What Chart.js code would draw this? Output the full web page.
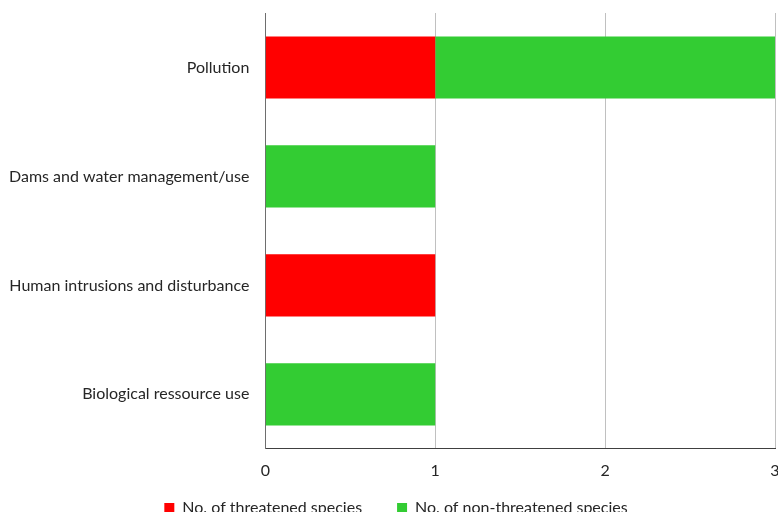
<!DOCTYPE html>
<html>
<head>
<meta charset="utf-8">
<script src="https://cdn.jsdelivr.net/npm/chart.js@4"></script>
<style>
  html, body { margin: 0; padding: 0; background: #fff; }
  #wrap { width: 778px; height: 516px; }
</style>
</head>
<body>
<div id="wrap"><canvas id="c" width="778" height="516"></canvas></div>
<script>
// Threats by category, split into threatened / non-threatened species counts
const categories = [
  'Pollution',
  'Dams and water management/use',
  'Human intrusions and disturbance',
  'Biological ressource use'
];
const threatened = [1, 0, 1, 0];
const nonThreatened = [2, 1, 0, 1];
const xTicks = [0, 1, 2, 3];

const FONT = 'Lato, "Open Sans", sans-serif';
const TEXT = '#262626';

// Keep the legend's wide item spacing while making its box shorter,
// then nudge it into place below the axis labels.
const legendFit = {
  id: 'legendFit',
  afterInit(chart) {
    const lg = chart.legend;
    if (!lg) return;
    const fit = lg.fit.bind(lg);
    lg.fit = function () { fit(); this.height -= 14; };
  },
  afterLayout(chart) {
    const lg = chart.legend;
    if (!lg) return;
    lg.top -= 14; lg.bottom -= 14;
    lg.left += 12; lg.right += 12;
  }
};

new Chart(document.getElementById('c'), {
  type: 'bar',
  data: {
    labels: categories,
    datasets: [
      {
        label: 'No. of threatened species',
        data: threatened,
        backgroundColor: '#ff0000',
        borderWidth: 0,
        categoryPercentage: 0.57,
        barPercentage: 1
      },
      {
        label: 'No. of non-threatened species',
        data: nonThreatened,
        backgroundColor: '#33cc33',
        borderWidth: 0,
        categoryPercentage: 0.57,
        barPercentage: 1
      }
    ]
  },
  plugins: [legendFit],
  options: {
    indexAxis: 'y',
    responsive: false,
    animation: false,
    layout: { padding: { top: 13, right: 3, left: -7, bottom: -10 } },
    scales: {
      x: {
        stacked: true,
        min: 0,
        max: 3,
        afterBuildTicks: (s) => { s.ticks = xTicks.map(v => ({ value: v })); },
        afterFit: (s) => { s.paddingRight = 0; s.paddingLeft = 0; s.height -= 13; },
        grid: { color: '#c0c0c0', lineWidth: 1, drawTicks: false },
        border: { color: '#404040', width: 1 },
        ticks: { font: { family: FONT, size: 16 }, color: TEXT, padding: 12 }
      },
      y: {
        stacked: true,
        afterFit: (s) => { s.paddingTop = 0; s.paddingBottom = 0; },
        grid: { display: false, drawTicks: false },
        border: { color: '#6e6e6e', width: 1 },
        ticks: { font: { family: FONT, size: 16 }, color: TEXT, padding: 16 }
      }
    },
    plugins: {
      legend: {
        position: 'bottom',
        labels: {
          font: { family: FONT, size: 16 },
          color: TEXT,
          boxWidth: 10,
          boxHeight: 10,
          padding: 35
        }
      },
      tooltip: { enabled: false }
    }
  }
});
</script>
</body>
</html>
